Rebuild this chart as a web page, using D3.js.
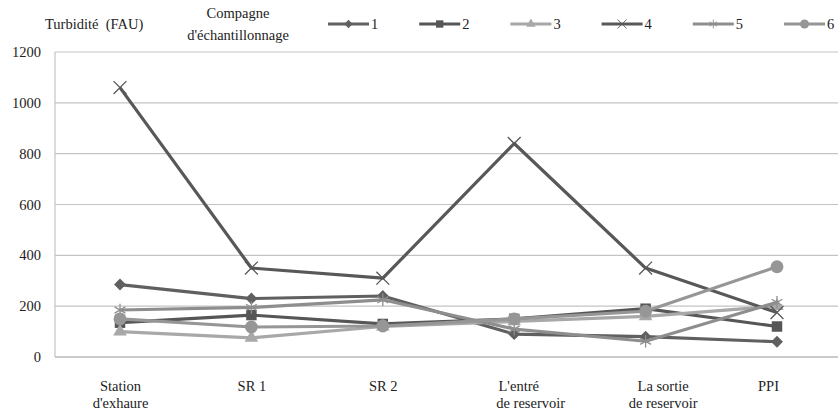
<!DOCTYPE html>
<html>
<head>
<meta charset="utf-8">
<script src="https://cdn.jsdelivr.net/npm/d3@7"></script>
<style>
  html, body { margin: 0; padding: 0; background: #fff; }
  svg, svg text { font-family: "Liberation Serif", "DejaVu Serif", serif; }
</style>
</head>
<body>
<svg id="chart" width="838" height="412"></svg>
<script>
// Sampling sites along the network
const sites = ["Station d'exhaure", "SR 1", "SR 2", "L'entré de reservoir", "La sortie de reservoir", "PPI"];
const siteLines = [["Station", "d'exhaure"], ["SR 1"], ["SR 2"], ["L'entré", "de reservoir"], ["La sortie", "de reservoir"], ["PPI"]];

// Turbidity (FAU) per sampling campaign
const campaign1 = [285, 230, 240, 90, 80, 60];
const campaign2 = [135, 165, 130, 150, 190, 120];
const campaign3 = [100, 75, 120, 140, 160, 200];
const campaign4 = [1060, 350, 310, 840, 350, 175];
const campaign5 = [185, 195, 225, 110, 62, 215];
const campaign6 = [150, 118, 122, 150, 180, 355];

const campaignNames = ["1", "2", "3", "4", "5", "6"];
const yTicks = [0, 200, 400, 600, 800, 1000, 1200];

const seriesValues = [campaign1, campaign2, campaign3, campaign4, campaign5, campaign6];
const colors = ["#606060", "#565656", "#a8a8a8", "#585858", "#8e8e8e", "#969696"];
const markers = ["diamond", "square", "triangle", "x", "star", "circle"];
const serif = "'Liberation Serif', 'DejaVu Serif', serif";
const fs = 14.5;

const svg = d3.select("#chart");
const margin = { left: 55, top: 52, bottom: 357 };

const x = d3.scalePoint().domain(sites).range([120, 777]);
const y = d3.scaleLinear().domain([0, 1200]).range([margin.bottom, margin.top]);

// Horizontal gridlines
svg.append("g").selectAll("line").data(yTicks.slice(1)).join("line")
  .attr("x1", margin.left).attr("x2", 838)
  .attr("y1", d => y(d)).attr("y2", d => y(d))
  .attr("stroke", "#c4c4c4").attr("stroke-width", 1.2);

// Value axis labels
const yAxis = svg.append("g").attr("transform", `translate(${margin.left},0)`)
  .call(d3.axisLeft(y).tickValues(yTicks).tickFormat(d3.format("d")).tickSize(0).tickPadding(14));
yAxis.attr("font-family", null);
yAxis.select(".domain").remove();
yAxis.selectAll("text").style("font-family", serif).attr("font-size", fs).attr("fill", "#222");

// Left frame and baseline
svg.append("line").attr("x1", margin.left).attr("x2", margin.left)
  .attr("y1", margin.top).attr("y2", margin.bottom).attr("stroke", "#c4c4c4").attr("stroke-width", 1.2);
svg.append("line").attr("x1", margin.left).attr("x2", 838)
  .attr("y1", margin.bottom).attr("y2", margin.bottom).attr("stroke", "#b8b8b8").attr("stroke-width", 1.5);

// Category labels
const xAxis = svg.append("g").attr("transform", `translate(0,${margin.bottom})`)
  .call(d3.axisBottom(x).tickSize(0).tickPadding(0).tickFormat(""));
xAxis.attr("font-family", null);
xAxis.select(".domain").remove();
const labelShift = [0, 0, 0, 4, 17, -9];
xAxis.selectAll(".tick").each(function(d, i) {
  const t = d3.select(this).append("text")
    .attr("text-anchor", "middle").style("font-family", serif)
    .attr("font-size", fs).attr("fill", "#222");
  siteLines[i].forEach((line, j) => {
    t.append("tspan").attr("x", labelShift[i] + (j === 1 && i === 3 ? 12 : 0)).attr("y", 34 + j * 17).text(line);
  });
});

// Marker shapes
function drawMarker(g, type, cx, cy, color) {
  const s = g.append("g").attr("transform", `translate(${cx},${cy})`);
  if (type === "diamond") {
    s.append("path").attr("d", d3.symbol(d3.symbolDiamond2, 90)()).attr("fill", color);
  } else if (type === "square") {
    s.append("path").attr("d", d3.symbol(d3.symbolSquare, 110)()).attr("fill", color);
  } else if (type === "triangle") {
    s.append("path").attr("d", d3.symbol(d3.symbolTriangle, 80)()).attr("fill", color);
  } else if (type === "circle") {
    s.append("path").attr("d", d3.symbol(d3.symbolCircle, 130)()).attr("fill", color);
  } else if (type === "x") {
    s.append("path").attr("d", d3.symbol(d3.symbolX, 110)()).attr("fill", "none")
      .attr("stroke", color).attr("stroke-width", 1.3);
  } else if (type === "star") {
    s.append("path").attr("d", d3.symbol(d3.symbolAsterisk, 110)()).attr("fill", "none")
      .attr("stroke", color).attr("stroke-width", 1.3);
  }
}

// Campaign lines
const line = d3.line().x((d, i) => x(sites[i])).y(d => y(d));
seriesValues.forEach((values, k) => {
  const g = svg.append("g");
  g.append("path").datum(values).attr("d", line)
    .attr("fill", "none").attr("stroke", colors[k]).attr("stroke-width", 3.2)
    .attr("stroke-linejoin", "round");
  values.forEach((v, i) => drawMarker(g, markers[k], x(sites[i]), y(v), colors[k]));
});

// Title and legend
const txt = (xp, yp, s, anchor) => svg.append("text").attr("x", xp).attr("y", yp)
  .attr("text-anchor", anchor || "start").attr("font-size", fs).attr("fill", "#222")
  .style("font-family", serif).style("white-space", "pre").text(s);
txt(45, 29, "Turbidité  (FAU)");
txt(238, 18, "Compagne", "middle");
txt(238, 40, "d'échantillonnage", "middle");

const legendX = d3.scalePoint().domain(campaignNames).range([328, 784]);
campaignNames.forEach((name, k) => {
  const lx = legendX(name);
  const g = svg.append("g");
  g.append("line").attr("x1", lx).attr("x2", lx + 41).attr("y1", 24).attr("y2", 24)
    .attr("stroke", colors[k]).attr("stroke-width", 3);
  const mg = g.append("g").attr("transform", `translate(${lx + 20.5},24) scale(0.7)`);
  drawMarker(mg, markers[k], 0, 0, colors[k]);
  txt(lx + 43, 29, name);
});
</script>
</body>
</html>
